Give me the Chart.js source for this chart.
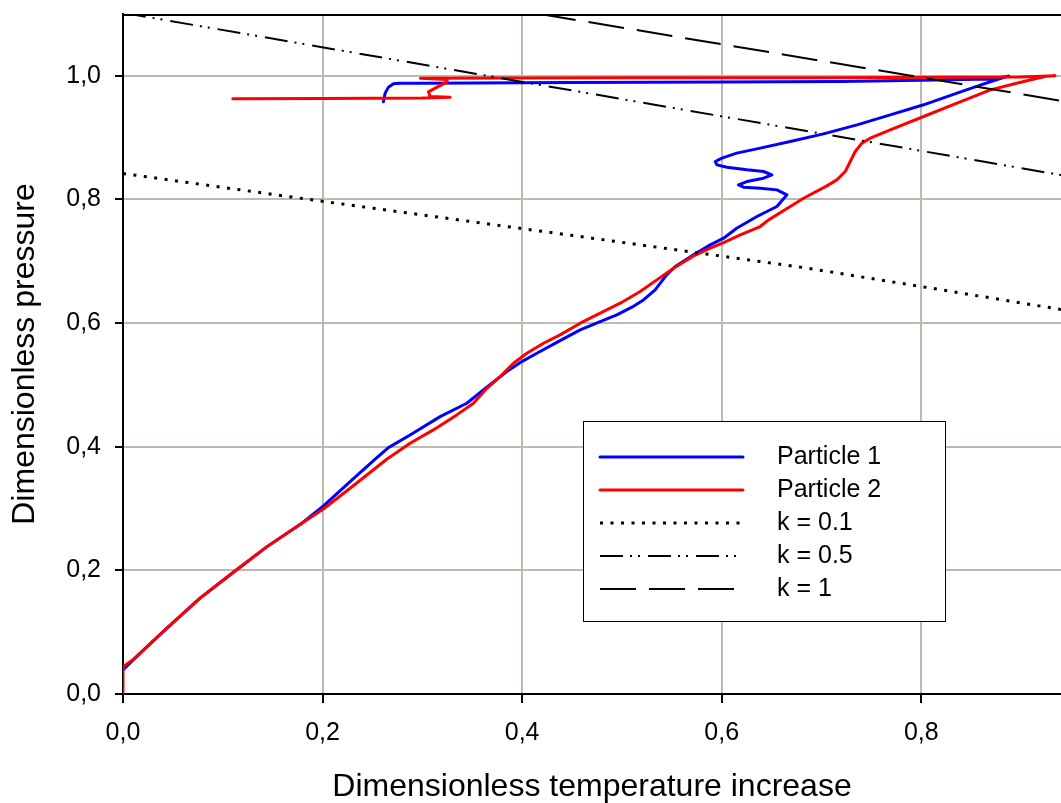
<!DOCTYPE html>
<html>
<head>
<meta charset="utf-8">
<title>Dimensionless pressure vs temperature increase</title>
<script src="https://cdn.jsdelivr.net/npm/chart.js@4.4.1/dist/chart.umd.min.js"></script>
<style>
  html, body { margin: 0; padding: 0; background: #ffffff; }
  #wrap { width: 1061px; height: 803px; }
</style>
</head>
<body>
<div id="wrap"><canvas id="chart" width="1061" height="803"></canvas></div>
<script>
// Particle 1 trajectory (temperature increase, pressure)
const p1T = [0, 0.012, 0.0271, 0.0438, 0.0772, 0.1123, 0.144, 0.1774, 0.2015, 0.2276,
  0.2527, 0.266, 0.2877, 0.3178, 0.3445, 0.3696, 0.3846, 0.3997, 0.4147, 0.438,
  0.4582, 0.4782, 0.4949, 0.51, 0.5216, 0.5333, 0.5434, 0.5534, 0.5718, 0.5885,
  0.6019, 0.615, 0.6353, 0.6553, 0.6653, 0.6553, 0.6386, 0.6219, 0.6168, 0.6252,
  0.6419, 0.6503, 0.6419, 0.6252, 0.6052, 0.5952, 0.5935, 0.6002, 0.615, 0.6386,
  0.6687, 0.702, 0.7356, 0.7689, 0.8023, 0.8358, 0.8591, 0.8759, 0.8875, 0.87,
  0.80, 0.72, 0.60, 0.45, 0.30, 0.2777, 0.271, 0.266, 0.2627, 0.261];
const p1P = [0.039, 0.058, 0.081, 0.106, 0.155, 0.199, 0.238, 0.274, 0.305, 0.3435,
  0.38, 0.3986, 0.419, 0.4487, 0.4703, 0.5027, 0.5215, 0.5377, 0.5512, 0.5717,
  0.589, 0.6025, 0.6133, 0.6257, 0.6375, 0.6537, 0.6753, 0.6915, 0.7104, 0.7265,
  0.7373, 0.7535, 0.7724, 0.7886, 0.8074, 0.8155, 0.8182, 0.8198, 0.8236, 0.829,
  0.8344, 0.8398, 0.8452, 0.8479, 0.8522, 0.856, 0.8614, 0.8668, 0.8749, 0.883,
  0.8937, 0.9061, 0.9207, 0.9369, 0.9531, 0.972, 0.985, 0.9941, 0.9995, 0.995,
  0.993, 0.991, 0.990, 0.989, 0.988, 0.988, 0.987, 0.9817, 0.972, 0.958];

// Particle 2 trajectory
const p2T = [0, 0, 0.012, 0.0271, 0.0438, 0.0772, 0.1123, 0.144, 0.1774, 0.2015,
  0.2276, 0.2643, 0.2877, 0.311, 0.3345, 0.3512, 0.3646, 0.378, 0.3913, 0.4047,
  0.4214, 0.438, 0.4582, 0.4782, 0.4983, 0.5183, 0.535, 0.5517, 0.5718, 0.5885,
  0.6019, 0.6186, 0.6386, 0.647, 0.6687, 0.682, 0.7054, 0.7154, 0.7238, 0.7288,
  0.7338, 0.7405, 0.7489, 0.7689, 0.8023, 0.8358, 0.8692, 0.9026, 0.926, 0.934,
  0.90, 0.70, 0.50, 0.298, 0.325, 0.3245, 0.3061, 0.3078, 0.3278, 0.30,
  0.20, 0.11];
const p2P = [0, 0.044, 0.058, 0.081, 0.106, 0.155, 0.199, 0.238, 0.274, 0.300,
  0.3328, 0.3798, 0.4056, 0.4272, 0.4515, 0.4703, 0.4946, 0.5134, 0.535, 0.5512,
  0.5674, 0.5809, 0.5998, 0.616, 0.6322, 0.651, 0.6699, 0.6888, 0.7087, 0.7211,
  0.7302, 0.7427, 0.7562, 0.767, 0.7886, 0.802, 0.822, 0.8317, 0.8452, 0.8614,
  0.8776, 0.8911, 0.8991, 0.9126, 0.9342, 0.9557, 0.9773, 0.9908, 0.9995, 1.0,
  0.998, 0.997, 0.997, 0.996, 0.994, 0.9903, 0.9741, 0.9666, 0.9655, 0.964,
  0.9635, 0.963];

// Limit lines for k = 0.1, 0.5 and 1
const k01T = [0, 0.2, 0.47, 0.682, 0.81, 0.94];
const k01P = [0.842, 0.797, 0.7374, 0.6898, 0.6565, 0.622];
const k05T = [0, 0.94];
const k05P = [1.102, 0.8395];
const k1T = [0.418, 0.94];
const k1P = [1.1, 0.9597];

// Axis ticks and their labels (decimal comma)
const xTicks = [0, 0.2, 0.4, 0.6, 0.8];
const xTickLabels = ['0,0', '0,2', '0,4', '0,6', '0,8'];
const yTicks = [0, 0.2, 0.4, 0.6, 0.8, 1.0];
const yTickLabels = ['0,0', '0,2', '0,4', '0,6', '0,8', '1,0'];

const seriesLabels = ['Particle 1', 'Particle 2', 'k = 0.1', 'k = 0.5', 'k = 1'];

const zip = (xs, ys) => xs.map((x, i) => ({ x: x, y: ys[i] }));
const tickText = (ticks, labels) => (v) => {
  const i = ticks.findIndex(t => Math.abs(t - v) < 1e-9);
  return i >= 0 ? labels[i] : '';
};

const FONT = "'Liberation Sans', Arial, Helvetica, sans-serif";
Chart.defaults.font.family = FONT;
Chart.defaults.color = '#000000';

const GRID = '#bbbbaf';

// Black frame line along the top of the plot area
const topFrame = {
  id: 'topFrame',
  afterDraw(chart) {
    const { ctx, chartArea: ca } = chart;
    ctx.save();
    ctx.strokeStyle = '#000000';
    ctx.lineWidth = 2;
    ctx.beginPath();
    ctx.moveTo(ca.left, ca.top + 1);
    ctx.lineTo(ca.right, ca.top + 1);
    ctx.stroke();
    ctx.restore();
  }
};

// Boxed legend inside the plot area, styled from the datasets
const boxedLegend = {
  id: 'boxedLegend',
  afterDraw(chart) {
    const { ctx, chartArea: ca } = chart;
    const bx = ca.left + 460, by = ca.top + 407, bw = 362, bh = 200;
    ctx.save();
    ctx.fillStyle = '#ffffff';
    ctx.fillRect(bx, by, bw, bh);
    ctx.strokeStyle = '#000000';
    ctx.lineWidth = 1;
    ctx.strokeRect(bx + 0.5, by + 0.5, bw, bh);
    ctx.font = '25px ' + FONT;
    ctx.textBaseline = 'middle';
    ctx.textAlign = 'left';
    chart.data.datasets.forEach((ds, i) => {
      const y = by + 36 + i * 33;
      ctx.beginPath();
      ctx.setLineDash(ds.borderDash || []);
      ctx.lineWidth = ds.borderWidth;
      ctx.strokeStyle = ds.borderColor;
      ctx.lineCap = ds.borderCapStyle || 'butt';
      ctx.moveTo(bx + 17, y);
      ctx.lineTo(bx + 160, y);
      ctx.stroke();
      ctx.setLineDash([]);
      ctx.fillStyle = '#000000';
      ctx.fillText(ds.label, bx + 194, y);
    });
    ctx.restore();
  }
};

const lineBase = { showLine: true, pointRadius: 0, pointHoverRadius: 0, tension: 0, fill: false };

new Chart(document.getElementById('chart'), {
  type: 'scatter',
  data: {
    datasets: [
      Object.assign({}, lineBase, {
        label: seriesLabels[0], data: zip(p1T, p1P),
        borderColor: '#0000ff', borderWidth: 3, borderCapStyle: 'round', borderJoinStyle: 'round', order: 2
      }),
      Object.assign({}, lineBase, {
        label: seriesLabels[1], data: zip(p2T, p2P),
        borderColor: '#ff0000', borderWidth: 3, borderCapStyle: 'round', borderJoinStyle: 'round', order: 1
      }),
      Object.assign({}, lineBase, {
        label: seriesLabels[2], data: zip(k01T, k01P),
        borderColor: '#000000', borderWidth: 3, borderDash: [3, 7.5], order: 0
      }),
      Object.assign({}, lineBase, {
        label: seriesLabels[3], data: zip(k05T, k05P),
        borderColor: '#000000', borderWidth: 2, borderDash: [23, 7, 2, 6, 2, 8], order: 0
      }),
      Object.assign({}, lineBase, {
        label: seriesLabels[4], data: zip(k1T, k1P),
        borderColor: '#000000', borderWidth: 2, borderDash: [36, 13], order: 0
      })
    ]
  },
  options: {
    responsive: false,
    animation: false,
    events: [],
    layout: { autoPadding: false, padding: { top: 14, right: 0, bottom: 0, left: 0 } },
    plugins: {
      legend: { display: false },
      tooltip: { enabled: false },
      title: { display: false }
    },
    scales: {
      x: {
        type: 'linear',
        position: 'bottom',
        min: 0,
        max: 0.94,
        afterBuildTicks: (s) => { s.ticks = xTicks.map(v => ({ value: v })); },
        afterFit: (s) => { s.height = 109; s.paddingLeft = 0; s.paddingRight = 0; },
        ticks: {
          callback: tickText(xTicks, xTickLabels),
          font: { size: 25, lineHeight: 1.2 },
          padding: 15,
          maxRotation: 0,
          autoSkip: false,
          color: '#000000'
        },
        grid: { color: GRID, lineWidth: 2, drawTicks: true, tickLength: 9, tickColor: '#000000', tickWidth: 2 },
        border: { color: '#000000', width: 2 },
        title: {
          display: true,
          text: 'Dimensionless temperature increase',
          font: { size: 32, lineHeight: 1 },
          padding: { top: 0, bottom: 0 },
          color: '#000000'
        }
      },
      y: {
        type: 'linear',
        position: 'left',
        min: 0,
        max: 1.1,
        afterBuildTicks: (s) => { s.ticks = yTicks.map(v => ({ value: v })); },
        afterFit: (s) => { s.width = 123; s.paddingTop = 0; s.paddingBottom = 0; },
        ticks: {
          callback: tickText(yTicks, yTickLabels),
          font: { size: 25, lineHeight: 1.2 },
          padding: 14,
          autoSkip: false,
          color: '#000000'
        },
        grid: { color: GRID, lineWidth: 2, drawTicks: true, tickLength: 8, tickColor: '#000000', tickWidth: 2 },
        border: { color: '#000000', width: 2 },
        title: {
          display: true,
          text: 'Dimensionless pressure',
          font: { size: 32, lineHeight: 1 },
          padding: { top: 9, bottom: 0 },
          color: '#000000'
        }
      }
    }
  },
  plugins: [topFrame, boxedLegend]
});
</script>
</body>
</html>
